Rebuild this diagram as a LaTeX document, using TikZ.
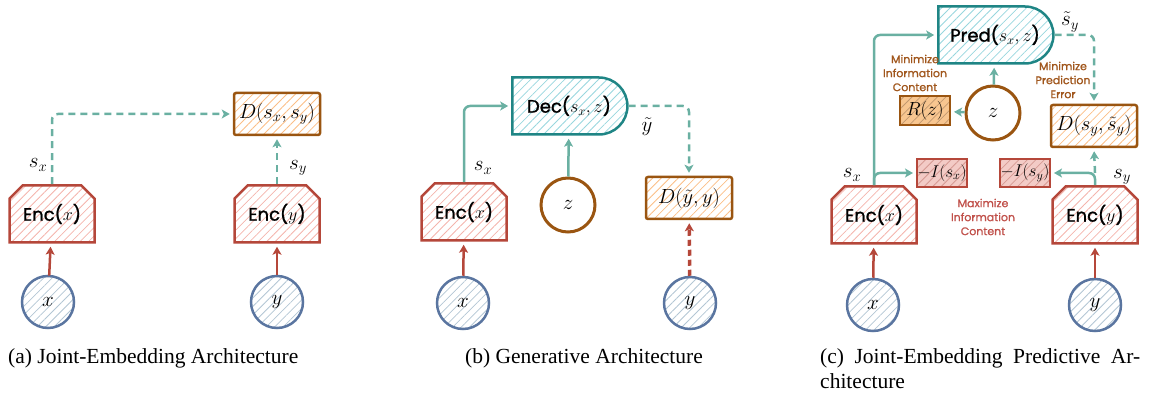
\RequirePackage{fix-cm}
\documentclass[tikz,border=0pt]{standalone}
\usepackage{amsmath,amssymb}
\usepackage{fontspec}
\setmainfont{Liberation Serif}
\newfontfamily\handfont{Poppins}[FakeBold=1.2]
\usetikzlibrary{shapes.misc,patterns.meta,arrows.meta}

\definecolor{encred}{HTML}{B5473A}
\definecolor{encfill}{HTML}{F4B4AC}
\definecolor{inblue}{HTML}{5A75A0}
\definecolor{infill}{HTML}{B3C6D4}
\definecolor{dbrown}{HTML}{9A5511}
\definecolor{dfill}{HTML}{FBBE86}
\definecolor{dectel}{HTML}{1F8585}
\definecolor{decfill}{HTML}{98D6DE}
\definecolor{arrteal}{HTML}{6AB0A2}
\definecolor{infofill}{HTML}{F3CBC6}
\definecolor{regfill}{HTML}{F8C690}
\definecolor{notebrown}{HTML}{A0561C}
\definecolor{notered}{HTML}{C0504A}

\tikzset{
  hatch/.style={pattern={Lines[angle=45,distance=6pt,line width=0.8pt]},pattern color=#1},
  mathtext/.style={font=\fontsize{21}{21}\selectfont},
  handtext/.style={font=\handfont\fontsize{18}{18}\selectfont},
  innode/.style={circle,draw=inblue,line width=2.5pt,minimum size=52pt,inner sep=0pt,hatch=infill,mathtext},
  latnode/.style={circle,draw=dbrown,line width=3pt,minimum size=54pt,inner sep=0pt,fill=white,mathtext},
  encnode/.style={chamfered rectangle,chamfered rectangle corners={north west,north east},
    chamfered rectangle xsep=12pt,draw=encred,line width=2.5pt,minimum width=85pt,minimum height=57pt,
    inner sep=0pt,hatch=encfill,handtext},
  distnode/.style={rectangle,rounded corners=2pt,draw=dbrown,line width=2.5pt,minimum width=86pt,
    minimum height=42pt,inner sep=0pt,hatch=dfill,font=\fontsize{20.5}{20.5}\selectfont},
  decnode/.style={rounded rectangle,rounded rectangle left arc=none,draw=dectel,line width=2.5pt,
    minimum width=115pt,minimum height=57pt,inner sep=0pt,hatch=decfill,handtext},
  infonode/.style={rectangle,draw=encred,line width=2pt,minimum width=50pt,minimum height=28pt,
    inner sep=0pt,preaction={fill=infofill},hatch=encred!55,font=\fontsize{17}{17}\selectfont},
  regnode/.style={rectangle,draw=dbrown,line width=2pt,minimum width=50pt,minimum height=29pt,
    inner sep=0pt,preaction={fill=regfill},hatch=dbrown!60,font=\fontsize{19}{19}\selectfont},
  encarrow/.style={draw=encred,line width=2.5pt,-{Stealth[length=8pt,width=9pt,inset=2pt]},shorten >=3pt},
  tealarrow/.style={draw=arrteal,line width=2.5pt,-{Stealth[length=8pt,width=9pt,inset=2pt]},
    rounded corners=6pt,shorten >=3pt},
  tealdash/.style={tealarrow,dash pattern=on 7pt off 5pt},
  notetext/.style={font=\handfont\fontsize{11}{14}\selectfont,align=center},
  captext/.style={anchor=west,font=\fontsize{21.5}{26}\selectfont,inner sep=0pt},
}

\begin{document}
\begin{tikzpicture}[x=1pt,y=-1pt]
\useasboundingbox (0,0) rectangle (1157,398);

% (a) joint-embedding
\node[innode] (xa) at (48,302) {$x$};
\node[innode] (ya) at (277,302) {$y$};
\node[encnode] (encxa) at (52,214) {Enc($x$)};
\node[encnode] (encya) at (277,214) {Enc($y$)};
\node[distnode] (da) at (277,114) {$D(s_x,s_y)$};
\node[mathtext] (sxa) at (38,165) {$s_x$};
\node[mathtext] (sya) at (298,168) {$s_y$};
\draw[encarrow] (xa) -- (encxa);
\draw[encarrow] (ya) -- (encya);
\draw[tealdash] (encxa.north) |- (da.west);
\draw[tealdash] (encya.north) -- (da.south);

% (b) generative
\node[innode] (xb) at (463,303) {$x$};
\node[innode] (yb) at (690,303) {$y$};
\node[encnode] (encxb) at (464,212) {Enc($x$)};
\node[decnode] (dec) at (569,106) {Dec($s_x,z$)};
\node[latnode] (zb) at (568,205) {$z$};
\node[distnode] (db) at (689,198) {$D(\tilde{y},y)$};
\node[mathtext] (sxb) at (483,168) {$s_x$};
\node[mathtext] (ytb) at (647,127) {$\tilde{y}$};
\draw[encarrow] (xb) -- (encxb);
\draw[tealarrow] (encxb.north) |- (dec.west);
\draw[tealarrow] (zb) -- (dec);
\draw[tealdash] (dec.east) -| (db.north);
\draw[encarrow,line width=3.5pt,dash pattern=on 6pt off 4pt] (yb) -- (db);

% (c) joint-embedding predictive
\node[innode] (xc) at (873,305) {$x$};
\node[innode] (yc) at (1095,305) {$y$};
\node[encnode] (encxc) at (874,215) {Enc($x$)};
\node[encnode] (encyc) at (1095,215) {Enc($y$)};
\node[decnode] (pred) at (995,35) {Pred($s_x,z$)};
\node[latnode] (zc) at (993,113) {$z$};
\node[regnode] (rz) at (925,111) {$R(z)$};
\node[distnode] (dc) at (1094,126) {$D(s_y,\tilde{s}_y)$};
\node[infonode] (isx) at (942,173) {$-I(s_x)$};
\node[infonode] (isy) at (1025,173) {$-I(s_y)$};
\node[mathtext] (sxc) at (852,175) {$s_x$};
\node[mathtext] (syc) at (1122,177) {$s_y$};
\node[mathtext] (styc) at (1070,22) {$\tilde{s}_y$};
\node[notetext,text=notebrown] (minic) at (915,73) {Minimize\\Information\\Content};
\node[notetext,text=notebrown] (minpe) at (1063,80) {Minimize\\Prediction\\Error};
\node[notetext,text=notered] (maxic) at (983,217) {Maximize\\Information\\Content};
\draw[encarrow] (xc) -- (encxc);
\draw[encarrow] (yc) -- (encyc);
\draw[tealarrow] (encxc.north) |- (pred.west);
\draw[tealarrow] (encxc.north) |- (isx.west);
\draw[tealarrow] (encyc.north) |- (isy.east);
\draw[tealdash] (encyc.north |- isy.east) -- (dc.south);
\draw[tealarrow] (zc) -- (pred);
\draw[tealarrow] (zc) -- (rz);
\draw[tealdash] (pred.east) -| (dc.north);

% captions
\node[captext] (capa) at (8,358) {(a)\ Joint-Embedding Architecture};
\node[captext] (capb) at (465,358) {(b)\ Generative Architecture};
\node[captext] (capc) at (820,358) {\makebox[320pt][s]{(c)\ Joint-Embedding Predictive Ar-}};
\node[captext] (capc2) at (820,381) {chitecture};
\end{tikzpicture}
\end{document}
